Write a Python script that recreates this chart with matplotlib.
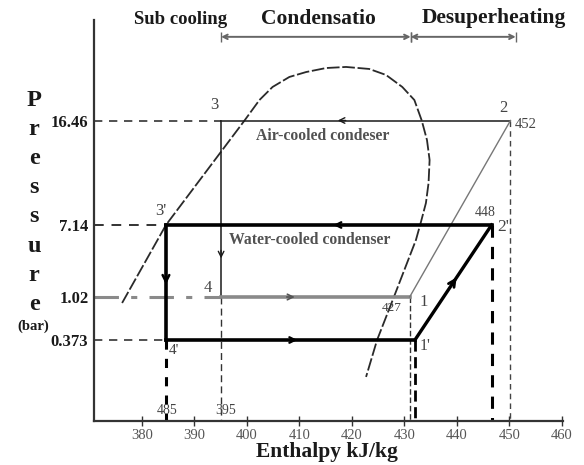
import numpy as np
import matplotlib
matplotlib.use('Agg')
import matplotlib.pyplot as plt

# ---------------- data ----------------
# labelled pressure levels (bar)
p_levels = [0.373, 1.02, 7.14, 16.46]
p_labels = ['0.373', '1.02', '7.14', '16.46']
# enthalpy ticks (kJ/kg)
h_ticks = [380, 390, 400, 410, 420, 430, 440, 450, 460]

# air-cooled condenser cycle: states 1, 2, 3, 4
air_names = ['1', '2', '3', '4']
air_h = [431.0, 450.2, 395.1, 395.1]
air_p = [1.02, 16.46, 16.46, 1.02]

# water-cooled condenser cycle: states 1', 2', 3', 4'
water_names = ["1'", "2'", "3'", "4'"]
water_h = [432.0, 446.6, 384.6, 384.6]
water_p = [0.373, 7.14, 7.14, 0.373]

# value labels written on the diagram
air_value_labels = {'1': '427', '2': '452'}
water_value_labels = {"2'": '448'}
bottom_value_labels = ['485', '395']

# saturation dome (schematic)
dome_h = [376.25, 384.6, 399.56, 402.4, 404.9, 408.1, 411.3, 415.1, 418.9, 423.3,
          426.5, 429.6, 431.9, 433.3, 434.3, 434.8, 434.6, 434.1, 433.1, 432.2,
          428.0, 424.8, 422.7]
dome_p = [0.93, 7.14, 16.46, 18.20, 19.31, 20.16, 20.58, 20.92, 21.01, 20.84,
          20.33, 19.31, 18.20, 16.46, 14.72, 12.94, 10.89, 9.10, 7.32, 5.87,
          1.02, 0.373, 0.203]

# region headers (enthalpy spans)
regions = ['Sub cooling', 'Condensatio', 'Desuperheating']
cond_span = [395.1, 431.2]
desup_span = [431.2, 451.2]

# schematic (non-uniform) pressure scale of the original diagram
scale_p = [0.0, 0.373, 1.02, 7.14, 16.46, 25.0]
scale_pos = [0.0, 81.0, 124.0, 196.0, 300.5, 401.0]

# ---------------- figure ----------------
W, H = 584, 465
fig = plt.figure(figsize=(W / 100, H / 100), dpi=100)
fig.patch.set_facecolor('white')
ax = fig.add_axes([94 / W, 1 - 421 / H, (563 - 94) / W, (421 - 20) / H])

def fwd(p):
    return np.interp(p, scale_p, scale_pos)

def inv(s):
    return np.interp(s, scale_pos, scale_p)

ax.set_yscale('function', functions=(fwd, inv))
ax.set_xlim(370.9, 460.2)
ax.set_ylim(0, 25)

SERIF = ['Liberation Serif', 'DejaVu Serif']
DARK = '#1a1a1a'
GRAY = '#555555'

for s in ['top', 'right']:
    ax.spines[s].set_visible(False)
for s in ['left', 'bottom']:
    ax.spines[s].set_color('#333333')
    ax.spines[s].set_linewidth(1.6)

ax.set_xticks(h_ticks)
ax.set_xticklabels([str(t) for t in h_ticks], family=SERIF, fontsize=10.5, color=GRAY)
ax.tick_params(axis='x', direction='inout', length=7, width=1, color='#333333', pad=2)
ax.set_yticks(p_levels)
ax.set_yticklabels(p_labels, family=SERIF, fontsize=12, fontweight='bold', color=DARK)
ax.tick_params(axis='y', length=0, pad=4)
ax.yaxis.set_minor_locator(matplotlib.ticker.NullLocator())
ax.xaxis.set_minor_locator(matplotlib.ticker.NullLocator())

# saturation dome
ax.plot(dome_h, dome_p, color='#2a2a2a', lw=1.3, ls=(0, (7, 1.5)), zorder=2,
        solid_joinstyle='round')

h1, h2, h3, h4 = air_h
p1, p2, p3, p4 = air_p
w1, w2, w3, w4 = water_h
q1, q2, q3, q4 = water_p
ymin = 0

# air-cooled cycle (thin)
ax.plot([h2, h3], [p2, p3], color=DARK, lw=1.1, zorder=3)
ax.plot([h3, h4], [p3, p4], color=DARK, lw=1.1, zorder=3)
ax.plot([h4, h1], [p4, p1], color='#8a8a8a', lw=2.6, zorder=3)
ax.plot([h1, h2], [p1, p2], color='#777777', lw=1.0, zorder=3)

# water-cooled cycle (thick)
ax.plot([w2, w3], [q2, q3], color='black', lw=2.6, zorder=4)
ax.plot([w3, w4], [q3, q4], color='black', lw=2.6, zorder=4)
ax.plot([w4, w1], [q4, q1], color='black', lw=2.6, zorder=4)
ax.plot([w1, w2], [q1, q2], color='black', lw=2.4, zorder=4)

# projection lines to the pressure axis
xl = ax.get_xlim()[0]
ax.plot([xl, h3], [p3, p3], color='#333333', lw=1.2, ls=(0, (5, 4)))
ax.plot([xl, w3], [q3, q3], color='#333333', lw=1.4, ls=(0, (5, 4)))
ax.plot([xl, h4], [p4, p4], color='#8a8a8a', lw=2.2, ls=(0, (8, 4, 2, 4)))
ax.plot([xl, w4], [q4, q4], color='#333333', lw=1.2, ls=(0, (5, 4)))

# projection lines to the enthalpy axis
ax.plot([w4, w4], [q4, ymin], color='black', lw=2.2, ls=(0, (3, 3)))
ax.plot([h4, h4], [p4, ymin], color='#333333', lw=1.0, ls=(0, (5, 3)))
ax.plot([h1, h1], [p1, ymin], color='#333333', lw=1.0, ls=(0, (4, 2)))
ax.plot([w1, w1], [q1, ymin], color='black', lw=2.0, ls=(0, (4, 2)))
ax.plot([w2, w2], [q2, ymin], color='black', lw=2.2, ls=(0, (4, 3)))
ax.plot([h2, h2], [p2, ymin], color='#444444', lw=1.0, ls=(0, (4, 3)))

# direction arrows along the cycle lines
def mid_arrow(x0, y0, x1, y1, frac, color, lw, ms=10):
    T = ax.transData
    a = np.array(T.transform((x0, y0)))
    b = np.array(T.transform((x1, y1)))
    m = a + frac * (b - a)
    d = (b - a) / np.hypot(*(b - a))
    tail = T.inverted().transform(m - d * 6)
    head = T.inverted().transform(m + d * 2)
    ax.annotate('', xy=head, xytext=tail,
                arrowprops=dict(arrowstyle='->', color=color, lw=lw,
                                mutation_scale=ms, shrinkA=0, shrinkB=0),
                zorder=6)

mid_arrow(h2, p2, h3, p3, 0.59, DARK, 1.0)
mid_arrow(h3, p3, h4, p4, 0.77, DARK, 1.0)
mid_arrow(h4, p4, h1, p1, 0.38, '#555555', 1.2)
mid_arrow(w2, q2, w3, q3, 0.48, 'black', 1.6)
mid_arrow(w3, q3, w4, q4, 0.50, 'black', 1.8, ms=12)
mid_arrow(w4, q4, w1, q1, 0.52, 'black', 1.6)
mid_arrow(w1, q1, w2, q2, 0.53, 'black', 2.0, ms=12)

# state labels
def lab(txt, x, y, dx, dy, size=11, ha='center', color='#444444'):
    ax.annotate(txt, xy=(x, y), xytext=(dx, -dy), textcoords='offset pixels',
                ha=ha, va='center', fontsize=size, family=SERIF, color=color,
                zorder=7)

lab('2', h2, p2, -7, -13, size=12)
lab('3', h3, p3, -7, -16, size=12)
lab('4', h4, p4, -13, -9, size=12)
lab('1', h1, p1, 14, 5, size=12)
lab(air_value_labels['2'], h2, p2, 4, 4, size=10.5, ha='left')
lab(air_value_labels['1'], h1, p1, -18, 11, size=9.5)
lab("3'", w3, q3, -5, -14, size=12)
lab("4'", w4, q4, 8, 10)
lab("1'", w1, q1, 10, 6, size=11.5)
lab("2'", w2, q2, 12, 2, size=12.5)
lab(water_value_labels["2'"], w2, q2, -6, -13, size=10)
lab(bottom_value_labels[0], w4, 0, 1, -11, size=10)
lab(bottom_value_labels[1], h4, 0, 5, -11, size=10)

# condenser captions
ax.text(414.4, 15.05, 'Air-cooled condeser', ha='center', va='center',
        fontsize=11.3, family=SERIF, color='#333333', fontweight='bold', alpha=0.85)
ax.text(412.0, 5.85, 'Water-cooled condenser', ha='center', va='center',
        fontsize=11.3, family=SERIF, color='#333333', fontweight='bold', alpha=0.85)

# region header arrows
xt = ax.get_xaxis_transform()
for span in (cond_span, desup_span):
    ax.annotate('', xy=(span[1], 0.958), xytext=(span[0], 0.958), xycoords=xt,
                arrowprops=dict(arrowstyle='<->', color='#666666', lw=1.4,
                                mutation_scale=8, shrinkA=0, shrinkB=0),
                annotation_clip=False)
    ax.plot(span, [0.958, 0.958], transform=xt, ls='none', marker='|', ms=7,
            color='#666666', clip_on=False)

def ftext(x, y, s, size, **kw):
    fig.text(x / W, 1 - y / H, s, fontsize=size, family=SERIF, **kw)

ftext(181, 19, regions[0], 13.5, fontweight='bold', ha='center', va='center', color=DARK)
ftext(318, 19, regions[1], 15.5, fontweight='bold', ha='center', va='center', color=DARK)
ftext(494, 18, regions[2], 15.5, fontweight='bold', ha='center', va='center', color=DARK)

# stacked pressure axis title
for i, ch in enumerate('Pressure'):
    ftext(34, 100 + 29.2 * i, ch, 17.5, fontweight='bold', ha='center', va='center', color=DARK)
ftext(33, 326, '(bar)', 10.5, fontweight='bold', ha='center', va='center', color=DARK)

ftext(327, 452, 'Enthalpy kJ/kg', 15.5, fontweight='bold', ha='center', va='center', color=DARK)

fig.savefig('out.png', dpi=100, facecolor='white')
